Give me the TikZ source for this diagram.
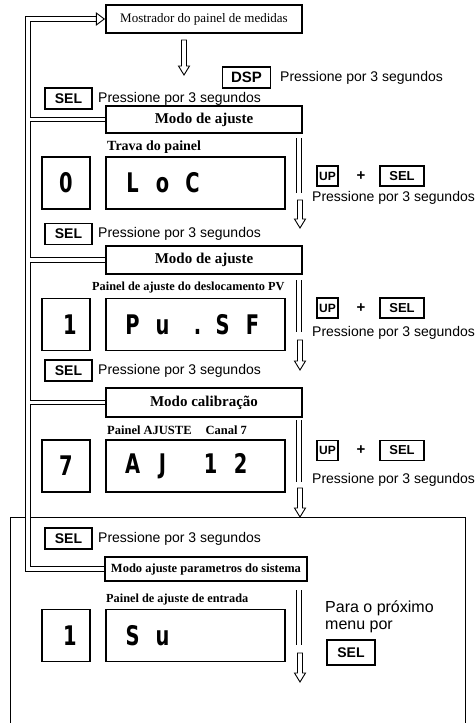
\documentclass[tikz,border=0pt]{standalone}
\usepackage{fontspec}
\setmainfont{Liberation Serif}
\newfontfamily\sansf{Liberation Sans}
\newfontfamily\segfont[FakeStretch=0.72]{DejaVu Sans}
\usetikzlibrary{calc}
\newcommand\hdown[3]{\draw[line width=0.9pt, fill=white] (#1-2.5,#2) -- (#1-2.5,#3-9) -- (#1-5.5,#3-9) -- (#1,#3) -- (#1+5.5,#3-9) -- (#1+2.5,#3-9) -- (#1+2.5,#2) -- cycle;}
\newcommand\segslot[1]{\makebox[30pt]{#1}}
\tikzset{
  modebox/.style={draw, line width=1.4pt, inner sep=0pt, minimum width=196pt, font=\bfseries\fontsize{15}{15}\selectfont},
  keybox/.style={draw, line width=1.3pt, inner sep=0pt, minimum height=21pt, font=\sansf\bfseries\fontsize{14}{14}\selectfont},
  disp/.style={draw, line width=1.3pt, inner sep=0pt, minimum height=52pt},
  segtext/.style={inner sep=0pt, font=\segfont\bfseries\fontsize{27}{27}\selectfont},
  press/.style={anchor=west, inner sep=0pt, font=\sansf\fontsize{14}{14}\selectfont},
  lbl/.style={anchor=west, inner sep=0pt, font=\bfseries\fontsize{12.5}{12.5}\selectfont},
  dbl/.style={double, double distance=3.6pt, line width=0.9pt},
  upbox/.style={keybox, minimum width=21pt, minimum height=20pt, font=\sansf\bfseries\fontsize{12}{12}\selectfont},
  selsmall/.style={keybox, minimum width=44pt, minimum height=20pt, font=\sansf\bfseries\fontsize{13}{13}\selectfont},
  plus/.style={inner sep=0pt, font=\sansf\bfseries\fontsize{15}{15}\selectfont},
}
\begin{document}
\begin{tikzpicture}[x=1pt, y=-1pt]
\useasboundingbox (0,0) rectangle (476,723);

% big open frame
\draw[line width=1pt] (10,723) -- (10,517) -- (465,517) -- (465,723);

% top
\node[modebox, minimum height=28pt, font=\fontsize{13}{13}\selectfont] (most) at (204,19) {Mostrador do painel de medidas};
\hdown{184}{40}{75}
\node[keybox, minimum width=48pt, font=\sansf\bfseries\fontsize{15}{15}\selectfont] (dsp) at (246.5,77.5) {DSP};
\node[press] (pdsp) at (280,78) {Pressione por 3 segundos};
\node[keybox, minimum width=47pt] (sel1) at (68.5,98.5) {SEL};
\node[press] (psel1) at (98,98.5) {Pressione por 3 segundos};
\node[modebox, minimum height=27pt] (m1) at (204,119.5) {Modo de ajuste};

% section 1
\node[lbl, font=\bfseries\fontsize{14}{14}\selectfont] (l1) at (107,147) {Trava do painel};
\node[disp, minimum width=48pt] (s1) at (66,183) {};
\node[segtext] (s1t) at (s1) {0};
\node[disp, minimum width=179pt] (d1) at (195.5,183) {};
\node[segtext, anchor=west] (d1t) at ($(d1.west)+(12,0)$) {\segslot{L}\segslot{o}\segslot{C}};
\draw[dbl] (299,138) -- (299,193);
\hdown{300}{200}{228}
\node[upbox] (up1) at (327.5,176) {UP};
\node[plus] (plus1) at (361,176) {+};
\node[selsmall] (sel1b) at (402,176) {SEL};
\node[press] (p1) at (312,198) {Pressione por 3 segundos};
\node[keybox, minimum width=47pt] (sel2) at (68.5,234) {SEL};
\node[press] (psel2) at (98,234) {Pressione por 3 segundos};
\node[modebox, minimum height=28pt] (m2) at (204,260) {Modo de ajuste};

% section 2
\node[lbl, font=\bfseries\fontsize{12.3}{12.3}\selectfont] (l2) at (92,288) {Painel de ajuste do deslocamento PV};
\node[disp, minimum width=48pt] (s2) at (66,324.5) {};
\node[segtext] (s2t) at (s2) {\hspace{8pt}1};
\node[disp, minimum width=179pt] (d2) at (195.5,324.5) {};
\node[segtext, anchor=west] (d2t) at ($(d2.west)+(12,0)$) {\segslot{P}\segslot{u}\segslot{\hspace{10pt}.}\segslot{S}\segslot{F}};
\draw[dbl] (299,280) -- (299,332);
\hdown{300}{340}{370}
\node[upbox] (up2) at (327.5,308) {UP};
\node[plus] (plus2) at (361,308) {+};
\node[selsmall] (sel2b) at (402,308) {SEL};
\node[press] (p2) at (312,333) {Pressione por 3 segundos};
\node[keybox, minimum width=47pt] (sel3) at (68.5,370.5) {SEL};
\node[press] (psel3) at (98,370.5) {Pressione por 3 segundos};
\node[modebox, minimum height=29pt] (m3) at (204,402.5) {Modo calibração};

% section 3
\node[lbl, font=\bfseries\fontsize{12.5}{12.5}\selectfont] (l3) at (107,430) {Painel AJUSTE\hspace{14pt}Canal 7};
\node[disp, minimum width=48pt] (s3) at (66,466) {};
\node[segtext] (s3t) at (s3) {7};
\node[disp, minimum width=179pt] (d3) at (195.5,466) {};
\node[segtext, anchor=west] (d3t) at ($(d3.west)+(12,0)$) {\segslot{A}\segslot{J}\makebox[18pt]{}\segslot{1}\segslot{2}};
\draw[dbl] (299,420) -- (299,482);
\hdown{300}{488}{517}
\node[upbox] (up3) at (327.5,450.5) {UP};
\node[plus] (plus3) at (361,450.5) {+};
\node[selsmall] (sel3b) at (402,450.5) {SEL};
\node[press] (p3) at (312,480) {Pressione por 3 segundos};

% section 4
\node[keybox, minimum width=47pt] (sel4) at (68.5,538.5) {SEL};
\node[press] (psel4) at (98,538.5) {Pressione por 3 segundos};
\node[modebox, minimum width=202pt, minimum height=24pt, font=\bfseries\fontsize{12.5}{12.5}\selectfont] (m4) at (206,569) {Modo ajuste parametros do sistema};
\node[lbl, font=\bfseries\fontsize{12.3}{12.3}\selectfont] (l4) at (106,600) {Painel de ajuste de entrada};
\node[disp, minimum width=48pt] (s4) at (66,635.5) {};
\node[segtext] (s4t) at (s4) {\hspace{8pt}1};
\node[disp, minimum width=179pt] (d4) at (195.5,635.5) {};
\node[segtext, anchor=west] (d4t) at ($(d4.west)+(12,0)$) {\segslot{S}\segslot{u}\segslot{}\segslot{}\segslot{}};
\draw[dbl] (299,590) -- (299,645);
\hdown{300}{653}{682}
\node[anchor=north west, inner sep=0pt, align=left, font=\sansf\fontsize{16}{17}\selectfont] (para) at (325,601) {Para o próximo\\menu por};
\node[keybox, minimum width=48pt, minimum height=25pt, font=\sansf\bfseries\fontsize{14}{14}\selectfont] (sel5) at (351,652.5) {SEL};

% feedback loop
\coordinate (lbot) at (28,569);
\coordinate (ltop) at (28,19);
\coordinate (inner) at (30.3,0);
\coordinate (tipb) at ($(most.west)+(-9,0)$);
\draw[dbl] (m4.west) -- (lbot) -- (ltop) -- (tipb);
\draw[line width=0.9pt, fill=white] ($(tipb)+(0,-6)$) -- ($(most.west)+(-1,0)$) -- ($(tipb)+(0,6)$) -- cycle;
\draw[dbl] (m1.west -| inner) -- (m1.west);
\draw[dbl] (m2.west -| inner) -- (m2.west);
\draw[dbl] (m3.west -| inner) -- (m3.west);
\end{tikzpicture}
\end{document}
